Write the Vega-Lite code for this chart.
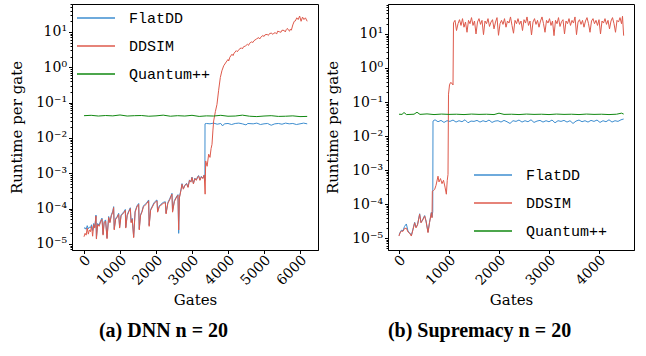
{
  "$schema": "https://vega.github.io/schema/vega-lite/v6.json",
  "padding": {"left": 8, "top": -3, "right": 0, "bottom": 0},
  "config": {
    "view": {"stroke": "#000", "strokeWidth": 1},
    "font": "DejaVu Serif",
    "concat": {"spacing": 5},
    "axis": {"grid": false, "domainColor": "#000", "tickColor": "#000", "labelColor": "#000", "titleColor": "#000",
      "labelFont": "DejaVu Serif", "titleFont": "DejaVu Serif", "labelFontSize": 14, "titleFontSize": 15, "titleFontWeight": "normal", "tickSize": 3.5},
    "legend": {"title": null, "symbolType": "stroke", "symbolSize": 1444, "symbolStrokeWidth": 1.5, "labelFont": "Liberation Mono", "labelFontSize": 15, "labelColor": "#000", "labelOffset": 13, "rowPadding": -1.5, "padding": 0, "labelLimit": 200},
    "title": {"orient": "bottom", "font": "Liberation Serif", "fontSize": 20, "fontWeight": "bold", "color": "#000", "anchor": "middle", "frame": "bounds", "offset": 14}
  },
  "resolve": {"legend": {"color": "independent"}, "scale": {"x": "independent", "y": "independent"}},
  "datasets": {
    "dnn": [
      {"s":"FlatDD","g":0,"v":2.75e-5},{"s":"FlatDD","g":30,"v":2.9e-5},{"s":"FlatDD","g":60,"v":2.6e-5},{"s":"FlatDD","g":90,"v":3.3e-5},{"s":"FlatDD","g":120,"v":2.7e-5},{"s":"FlatDD","g":150,"v":3.0e-5},{"s":"FlatDD","g":180,"v":2.9e-5},{"s":"FlatDD","g":210,"v":3.5e-5},{"s":"FlatDD","g":240,"v":2.4e-5},{"s":"FlatDD","g":270,"v":3.8e-5},
      {"s":"FlatDD","g":300,"v":3.0e-5},{"s":"FlatDD","g":333,"v":6.6e-5},{"s":"FlatDD","g":345,"v":1.5e-5},{"s":"FlatDD","g":380,"v":3.8e-5},{"s":"FlatDD","g":420,"v":3.4e-5},{"s":"FlatDD","g":460,"v":4.5e-5},{"s":"FlatDD","g":500,"v":5.4e-5},{"s":"FlatDD","g":530,"v":1.9e-5},{"s":"FlatDD","g":560,"v":4.3e-5},{"s":"FlatDD","g":600,"v":4.8e-5},
      {"s":"FlatDD","g":640,"v":1.5e-5},{"s":"FlatDD","g":685,"v":6.0e-5},{"s":"FlatDD","g":720,"v":4.2e-5},{"s":"FlatDD","g":760,"v":6.7e-5},{"s":"FlatDD","g":800,"v":8.5e-5},{"s":"FlatDD","g":824,"v":1.14e-4},{"s":"FlatDD","g":840,"v":2.7e-5},{"s":"FlatDD","g":880,"v":5.3e-5},{"s":"FlatDD","g":920,"v":6.0e-5},{"s":"FlatDD","g":963,"v":7.4e-5},
      {"s":"FlatDD","g":990,"v":3.0e-5},{"s":"FlatDD","g":1030,"v":6.7e-5},{"s":"FlatDD","g":1080,"v":7.5e-5},{"s":"FlatDD","g":1120,"v":8.5e-5},{"s":"FlatDD","g":1148,"v":9.5e-5},{"s":"FlatDD","g":1160,"v":3.0e-5},{"s":"FlatDD","g":1200,"v":6.7e-5},{"s":"FlatDD","g":1250,"v":8.9e-5},{"s":"FlatDD","g":1287,"v":1.06e-4},{"s":"FlatDD","g":1310,"v":4.2e-5},
      {"s":"FlatDD","g":1340,"v":5.3e-5},{"s":"FlatDD","g":1380,"v":1.6e-5},{"s":"FlatDD","g":1420,"v":8.4e-5},{"s":"FlatDD","g":1470,"v":1.19e-4},{"s":"FlatDD","g":1519,"v":1.40e-4},{"s":"FlatDD","g":1535,"v":2.7e-5},{"s":"FlatDD","g":1570,"v":6.7e-5},{"s":"FlatDD","g":1610,"v":8.4e-5},{"s":"FlatDD","g":1650,"v":1.19e-4},{"s":"FlatDD","g":1700,"v":1.34e-4},
      {"s":"FlatDD","g":1750,"v":1.5e-4},{"s":"FlatDD","g":1796,"v":1.76e-4},{"s":"FlatDD","g":1810,"v":3.4e-5},{"s":"FlatDD","g":1850,"v":9.4e-5},{"s":"FlatDD","g":1900,"v":1.19e-4},{"s":"FlatDD","g":1950,"v":1.5e-4},{"s":"FlatDD","g":2000,"v":1.68e-4},{"s":"FlatDD","g":2028,"v":1.76e-4},{"s":"FlatDD","g":2045,"v":8.4e-5},{"s":"FlatDD","g":2090,"v":1.19e-4},
      {"s":"FlatDD","g":2140,"v":1.34e-4},{"s":"FlatDD","g":2200,"v":1.5e-4},{"s":"FlatDD","g":2259,"v":1.57e-4},{"s":"FlatDD","g":2280,"v":7.5e-5},{"s":"FlatDD","g":2330,"v":1.5e-4},{"s":"FlatDD","g":2380,"v":1.89e-4},{"s":"FlatDD","g":2420,"v":2.37e-4},{"s":"FlatDD","g":2444,"v":2.72e-4},{"s":"FlatDD","g":2460,"v":8.4e-5},{"s":"FlatDD","g":2510,"v":1.68e-4},
      {"s":"FlatDD","g":2560,"v":2.1e-4},{"s":"FlatDD","g":2610,"v":2.5e-4},{"s":"FlatDD","g":2630,"v":2.0e-5},{"s":"FlatDD","g":2650,"v":2.1e-4},{"s":"FlatDD","g":2700,"v":3.7e-4},{"s":"FlatDD","g":2722,"v":5.1e-4},{"s":"FlatDD","g":2760,"v":3.7e-4},{"s":"FlatDD","g":2800,"v":4.6e-4},{"s":"FlatDD","g":2850,"v":5.2e-4},{"s":"FlatDD","g":2890,"v":4.1e-4},
      {"s":"FlatDD","g":2930,"v":6.5e-4},{"s":"FlatDD","g":2970,"v":5.8e-4},{"s":"FlatDD","g":3000,"v":7.8e-4},{"s":"FlatDD","g":3040,"v":5.2e-4},{"s":"FlatDD","g":3080,"v":7.3e-4},{"s":"FlatDD","g":3120,"v":6.5e-4},{"s":"FlatDD","g":3160,"v":8.2e-4},{"s":"FlatDD","g":3185,"v":8.6e-4},{"s":"FlatDD","g":3220,"v":6.5e-4},{"s":"FlatDD","g":3260,"v":8.2e-4},
      {"s":"FlatDD","g":3300,"v":7.3e-4},{"s":"FlatDD","g":3340,"v":9.0e-4},{"s":"FlatDD","g":3358,"v":6.3e-4},{"s":"FlatDD","g":3362,"v":0.0251},{"s":"FlatDD","g":3400,"v":0.0257},{"s":"FlatDD","g":3500,"v":0.0251},{"s":"FlatDD","g":3600,"v":0.0263},{"s":"FlatDD","g":3700,"v":0.0245},{"s":"FlatDD","g":3800,"v":0.0257},{"s":"FlatDD","g":3850,"v":0.0219},
      {"s":"FlatDD","g":3900,"v":0.0251},{"s":"FlatDD","g":4000,"v":0.0257},{"s":"FlatDD","g":4100,"v":0.0240},{"s":"FlatDD","g":4200,"v":0.0257},{"s":"FlatDD","g":4300,"v":0.0263},{"s":"FlatDD","g":4400,"v":0.0251},{"s":"FlatDD","g":4500,"v":0.0234},{"s":"FlatDD","g":4550,"v":0.0257},{"s":"FlatDD","g":4700,"v":0.0251},{"s":"FlatDD","g":4800,"v":0.0263},
      {"s":"FlatDD","g":4900,"v":0.0240},{"s":"FlatDD","g":5000,"v":0.0251},{"s":"FlatDD","g":5100,"v":0.0257},{"s":"FlatDD","g":5200,"v":0.0229},{"s":"FlatDD","g":5300,"v":0.0251},{"s":"FlatDD","g":5400,"v":0.0257},{"s":"FlatDD","g":5500,"v":0.0245},{"s":"FlatDD","g":5600,"v":0.0263},{"s":"FlatDD","g":5700,"v":0.0251},{"s":"FlatDD","g":5800,"v":0.0257},
      {"s":"FlatDD","g":5900,"v":0.0240},{"s":"FlatDD","g":6000,"v":0.0251},{"s":"FlatDD","g":6100,"v":0.0263},{"s":"FlatDD","g":6200,"v":0.0251},

      {"s":"DDSIM","g":0,"v":1.6e-5},{"s":"DDSIM","g":30,"v":2.0e-5},{"s":"DDSIM","g":60,"v":1.78e-5},{"s":"DDSIM","g":90,"v":2.82e-5},{"s":"DDSIM","g":120,"v":1.9e-5},{"s":"DDSIM","g":150,"v":2.5e-5},{"s":"DDSIM","g":180,"v":2.24e-5},{"s":"DDSIM","g":210,"v":3.16e-5},{"s":"DDSIM","g":240,"v":1.66e-5},{"s":"DDSIM","g":270,"v":3.55e-5},
      {"s":"DDSIM","g":300,"v":2.82e-5},{"s":"DDSIM","g":333,"v":6.17e-5},{"s":"DDSIM","g":345,"v":1.38e-5},{"s":"DDSIM","g":380,"v":3.55e-5},{"s":"DDSIM","g":420,"v":3.16e-5},{"s":"DDSIM","g":460,"v":4.17e-5},{"s":"DDSIM","g":500,"v":5.0e-5},{"s":"DDSIM","g":530,"v":1.78e-5},{"s":"DDSIM","g":560,"v":3.98e-5},{"s":"DDSIM","g":600,"v":4.47e-5},
      {"s":"DDSIM","g":640,"v":1.41e-5},{"s":"DDSIM","g":685,"v":5.62e-5},{"s":"DDSIM","g":720,"v":3.98e-5},{"s":"DDSIM","g":760,"v":6.31e-5},{"s":"DDSIM","g":800,"v":7.94e-5},{"s":"DDSIM","g":824,"v":1.07e-4},{"s":"DDSIM","g":840,"v":2.5e-5},{"s":"DDSIM","g":880,"v":5.0e-5},{"s":"DDSIM","g":920,"v":5.62e-5},{"s":"DDSIM","g":963,"v":6.92e-5},
      {"s":"DDSIM","g":990,"v":2.82e-5},{"s":"DDSIM","g":1030,"v":6.31e-5},{"s":"DDSIM","g":1080,"v":7.08e-5},{"s":"DDSIM","g":1120,"v":7.94e-5},{"s":"DDSIM","g":1148,"v":8.91e-5},{"s":"DDSIM","g":1160,"v":2.82e-5},{"s":"DDSIM","g":1200,"v":6.31e-5},{"s":"DDSIM","g":1250,"v":8.32e-5},{"s":"DDSIM","g":1287,"v":1.0e-4},{"s":"DDSIM","g":1310,"v":3.98e-5},
      {"s":"DDSIM","g":1340,"v":5.0e-5},{"s":"DDSIM","g":1380,"v":1.51e-5},{"s":"DDSIM","g":1420,"v":7.94e-5},{"s":"DDSIM","g":1470,"v":1.12e-4},{"s":"DDSIM","g":1519,"v":1.32e-4},{"s":"DDSIM","g":1535,"v":2.5e-5},{"s":"DDSIM","g":1570,"v":6.31e-5},{"s":"DDSIM","g":1610,"v":7.94e-5},{"s":"DDSIM","g":1650,"v":1.12e-4},{"s":"DDSIM","g":1700,"v":1.26e-4},
      {"s":"DDSIM","g":1750,"v":1.41e-4},{"s":"DDSIM","g":1796,"v":1.66e-4},{"s":"DDSIM","g":1810,"v":3.16e-5},{"s":"DDSIM","g":1850,"v":8.91e-5},{"s":"DDSIM","g":1900,"v":1.12e-4},{"s":"DDSIM","g":1950,"v":1.41e-4},{"s":"DDSIM","g":2000,"v":1.58e-4},{"s":"DDSIM","g":2028,"v":1.66e-4},{"s":"DDSIM","g":2045,"v":7.94e-5},{"s":"DDSIM","g":2090,"v":1.12e-4},
      {"s":"DDSIM","g":2140,"v":1.26e-4},{"s":"DDSIM","g":2200,"v":1.41e-4},{"s":"DDSIM","g":2259,"v":1.48e-4},{"s":"DDSIM","g":2280,"v":7.08e-5},{"s":"DDSIM","g":2330,"v":1.41e-4},{"s":"DDSIM","g":2380,"v":1.78e-4},{"s":"DDSIM","g":2420,"v":2.24e-4},{"s":"DDSIM","g":2444,"v":2.57e-4},{"s":"DDSIM","g":2460,"v":7.94e-5},{"s":"DDSIM","g":2510,"v":1.58e-4},
      {"s":"DDSIM","g":2560,"v":2.0e-4},{"s":"DDSIM","g":2610,"v":2.4e-4},{"s":"DDSIM","g":2630,"v":2.5e-5},{"s":"DDSIM","g":2650,"v":2.0e-4},{"s":"DDSIM","g":2700,"v":3.55e-4},{"s":"DDSIM","g":2722,"v":4.9e-4},{"s":"DDSIM","g":2760,"v":3.55e-4},{"s":"DDSIM","g":2800,"v":4.47e-4},{"s":"DDSIM","g":2850,"v":5.0e-4},{"s":"DDSIM","g":2890,"v":3.98e-4},
      {"s":"DDSIM","g":2930,"v":6.31e-4},{"s":"DDSIM","g":2970,"v":5.62e-4},{"s":"DDSIM","g":3000,"v":7.59e-4},{"s":"DDSIM","g":3040,"v":5.0e-4},{"s":"DDSIM","g":3080,"v":7.08e-4},{"s":"DDSIM","g":3120,"v":6.31e-4},{"s":"DDSIM","g":3160,"v":7.94e-4},{"s":"DDSIM","g":3185,"v":8.32e-4},{"s":"DDSIM","g":3220,"v":6.31e-4},{"s":"DDSIM","g":3260,"v":7.94e-4},
      {"s":"DDSIM","g":3300,"v":7.08e-4},{"s":"DDSIM","g":3340,"v":8.91e-4},{"s":"DDSIM","g":3365,"v":2.57e-4},{"s":"DDSIM","g":3380,"v":2.24e-3},{"s":"DDSIM","g":3420,"v":1.58e-3},{"s":"DDSIM","g":3463,"v":3.47e-3},{"s":"DDSIM","g":3500,"v":2.82e-3},{"s":"DDSIM","g":3530,"v":5.0e-3},{"s":"DDSIM","g":3556,"v":6.61e-3},{"s":"DDSIM","g":3580,"v":1.58e-2},
      {"s":"DDSIM","g":3602,"v":3.02e-2},{"s":"DDSIM","g":3650,"v":5.62e-2},{"s":"DDSIM","g":3694,"v":8.91e-2},{"s":"DDSIM","g":3740,"v":0.224},{"s":"DDSIM","g":3787,"v":0.513},{"s":"DDSIM","g":3830,"v":0.794},{"s":"DDSIM","g":3880,"v":1.10},{"s":"DDSIM","g":3950,"v":1.41},{"s":"DDSIM","g":4000,"v":1.66},{"s":"DDSIM","g":4020,"v":1.51},
      {"s":"DDSIM","g":4050,"v":1.91},{"s":"DDSIM","g":4111,"v":2.34},{"s":"DDSIM","g":4140,"v":2.14},{"s":"DDSIM","g":4170,"v":2.51},{"s":"DDSIM","g":4230,"v":2.95},{"s":"DDSIM","g":4260,"v":2.75},{"s":"DDSIM","g":4300,"v":3.16},{"s":"DDSIM","g":4370,"v":3.55},{"s":"DDSIM","g":4400,"v":3.31},{"s":"DDSIM","g":4430,"v":3.80},
      {"s":"DDSIM","g":4481,"v":3.98},{"s":"DDSIM","g":4540,"v":4.47},{"s":"DDSIM","g":4570,"v":4.17},{"s":"DDSIM","g":4600,"v":4.79},{"s":"DDSIM","g":4660,"v":5.25},{"s":"DDSIM","g":4690,"v":5.01},{"s":"DDSIM","g":4720,"v":5.62},{"s":"DDSIM","g":4790,"v":6.31},{"s":"DDSIM","g":4852,"v":6.92},{"s":"DDSIM","g":4880,"v":6.31},
      {"s":"DDSIM","g":4910,"v":7.08},{"s":"DDSIM","g":4970,"v":7.94},{"s":"DDSIM","g":5000,"v":7.41},{"s":"DDSIM","g":5030,"v":8.32},{"s":"DDSIM","g":5090,"v":8.51},{"s":"DDSIM","g":5120,"v":7.94},{"s":"DDSIM","g":5150,"v":8.91},{"s":"DDSIM","g":5210,"v":9.33},{"s":"DDSIM","g":5240,"v":8.51},{"s":"DDSIM","g":5270,"v":9.12},
      {"s":"DDSIM","g":5315,"v":9.55},{"s":"DDSIM","g":5350,"v":8.71},{"s":"DDSIM","g":5380,"v":10.5},{"s":"DDSIM","g":5440,"v":10.0},{"s":"DDSIM","g":5470,"v":9.77},{"s":"DDSIM","g":5500,"v":11.2},{"s":"DDSIM","g":5560,"v":11.0},{"s":"DDSIM","g":5590,"v":10.0},{"s":"DDSIM","g":5620,"v":11.7},{"s":"DDSIM","g":5650,"v":12.6},
      {"s":"DDSIM","g":5680,"v":11.2},{"s":"DDSIM","g":5710,"v":10.5},{"s":"DDSIM","g":5731,"v":12.0},{"s":"DDSIM","g":5760,"v":11.2},{"s":"DDSIM","g":5800,"v":15.8},{"s":"DDSIM","g":5840,"v":20.0},{"s":"DDSIM","g":5870,"v":20.4},{"s":"DDSIM","g":5910,"v":25.1},{"s":"DDSIM","g":5950,"v":22.4},{"s":"DDSIM","g":5990,"v":28.2},
      {"s":"DDSIM","g":6030,"v":20.0},{"s":"DDSIM","g":6070,"v":26.3},{"s":"DDSIM","g":6110,"v":22.4},{"s":"DDSIM","g":6150,"v":25.1},{"s":"DDSIM","g":6200,"v":20.0},

      {"s":"Quantum++","g":0,"v":0.0427},{"s":"Quantum++","g":200,"v":0.0437},{"s":"Quantum++","g":400,"v":0.0417},{"s":"Quantum++","g":600,"v":0.0432},{"s":"Quantum++","g":800,"v":0.0422},{"s":"Quantum++","g":1000,"v":0.0447},{"s":"Quantum++","g":1200,"v":0.0417},{"s":"Quantum++","g":1400,"v":0.0427},
      {"s":"Quantum++","g":1600,"v":0.0432},{"s":"Quantum++","g":1800,"v":0.0412},{"s":"Quantum++","g":2000,"v":0.0422},{"s":"Quantum++","g":2200,"v":0.0442},{"s":"Quantum++","g":2400,"v":0.0412},{"s":"Quantum++","g":2600,"v":0.0427},{"s":"Quantum++","g":2800,"v":0.0417},{"s":"Quantum++","g":3000,"v":0.0437},
      {"s":"Quantum++","g":3200,"v":0.0407},{"s":"Quantum++","g":3400,"v":0.0422},{"s":"Quantum++","g":3600,"v":0.0417},{"s":"Quantum++","g":3800,"v":0.0437},{"s":"Quantum++","g":4000,"v":0.0412},{"s":"Quantum++","g":4200,"v":0.0417},{"s":"Quantum++","g":4400,"v":0.0442},{"s":"Quantum++","g":4600,"v":0.0412},
      {"s":"Quantum++","g":4800,"v":0.0402},{"s":"Quantum++","g":5000,"v":0.0417},{"s":"Quantum++","g":5200,"v":0.0427},{"s":"Quantum++","g":5400,"v":0.0407},{"s":"Quantum++","g":5600,"v":0.0412},{"s":"Quantum++","g":5800,"v":0.0422},{"s":"Quantum++","g":6000,"v":0.0402},{"s":"Quantum++","g":6200,"v":0.0407}
    ],
    "sup": [
      {"s":"FlatDD","g":0,"v":1.2e-5},{"s":"FlatDD","g":20,"v":1.45e-5},{"s":"FlatDD","g":47,"v":1.7e-5},{"s":"FlatDD","g":80,"v":1.65e-5},{"s":"FlatDD","g":110,"v":2.2e-5},{"s":"FlatDD","g":147,"v":2.6e-5},{"s":"FlatDD","g":180,"v":1.6e-5},{"s":"FlatDD","g":210,"v":1.45e-5},{"s":"FlatDD","g":247,"v":1.2e-5},{"s":"FlatDD","g":280,"v":1.85e-5},
      {"s":"FlatDD","g":313,"v":2.9e-5},{"s":"FlatDD","g":340,"v":2.1e-5},{"s":"FlatDD","g":370,"v":2.5e-5},{"s":"FlatDD","g":413,"v":5.2e-5},{"s":"FlatDD","g":440,"v":2.9e-5},{"s":"FlatDD","g":470,"v":3.4e-5},{"s":"FlatDD","g":513,"v":4.6e-5},{"s":"FlatDD","g":540,"v":3.2e-5},{"s":"FlatDD","g":580,"v":1.5e-5},{"s":"FlatDD","g":610,"v":2.9e-5},
      {"s":"FlatDD","g":647,"v":5.7e-5},{"s":"FlatDD","g":660,"v":4.1e-5},{"s":"FlatDD","g":675,"v":6.0e-5},{"s":"FlatDD","g":680,"v":0.0275},{"s":"FlatDD","g":720,"v":0.0300},{"s":"FlatDD","g":780,"v":0.0263},{"s":"FlatDD","g":840,"v":0.0288},{"s":"FlatDD","g":900,"v":0.0251},{"s":"FlatDD","g":960,"v":0.0282},{"s":"FlatDD","g":1020,"v":0.0269},
      {"s":"FlatDD","g":1080,"v":0.0295},{"s":"FlatDD","g":1140,"v":0.0257},{"s":"FlatDD","g":1200,"v":0.0282},{"s":"FlatDD","g":1260,"v":0.0263},{"s":"FlatDD","g":1320,"v":0.0300},{"s":"FlatDD","g":1380,"v":0.0245},{"s":"FlatDD","g":1440,"v":0.0275},{"s":"FlatDD","g":1500,"v":0.0269},{"s":"FlatDD","g":1560,"v":0.0288},{"s":"FlatDD","g":1620,"v":0.0257},
      {"s":"FlatDD","g":1680,"v":0.0282},{"s":"FlatDD","g":1740,"v":0.0263},{"s":"FlatDD","g":1800,"v":0.0295},{"s":"FlatDD","g":1860,"v":0.0251},{"s":"FlatDD","g":1920,"v":0.0275},{"s":"FlatDD","g":1980,"v":0.0282},{"s":"FlatDD","g":2040,"v":0.0257},{"s":"FlatDD","g":2100,"v":0.0288},{"s":"FlatDD","g":2160,"v":0.0263},{"s":"FlatDD","g":2220,"v":0.0234},
      {"s":"FlatDD","g":2280,"v":0.0282},{"s":"FlatDD","g":2340,"v":0.0269},{"s":"FlatDD","g":2400,"v":0.0295},{"s":"FlatDD","g":2460,"v":0.0257},{"s":"FlatDD","g":2520,"v":0.0282},{"s":"FlatDD","g":2580,"v":0.0263},{"s":"FlatDD","g":2640,"v":0.0300},{"s":"FlatDD","g":2700,"v":0.0251},{"s":"FlatDD","g":2760,"v":0.0275},{"s":"FlatDD","g":2820,"v":0.0288},
      {"s":"FlatDD","g":2880,"v":0.0257},{"s":"FlatDD","g":2940,"v":0.0282},{"s":"FlatDD","g":3000,"v":0.0263},{"s":"FlatDD","g":3060,"v":0.0295},{"s":"FlatDD","g":3120,"v":0.0245},{"s":"FlatDD","g":3180,"v":0.0282},{"s":"FlatDD","g":3240,"v":0.0269},{"s":"FlatDD","g":3300,"v":0.0288},{"s":"FlatDD","g":3360,"v":0.0257},{"s":"FlatDD","g":3420,"v":0.0282},
      {"s":"FlatDD","g":3480,"v":0.0234},{"s":"FlatDD","g":3540,"v":0.0275},{"s":"FlatDD","g":3600,"v":0.0295},{"s":"FlatDD","g":3660,"v":0.0263},{"s":"FlatDD","g":3720,"v":0.0282},{"s":"FlatDD","g":3780,"v":0.0257},{"s":"FlatDD","g":3840,"v":0.0288},{"s":"FlatDD","g":3900,"v":0.0269},{"s":"FlatDD","g":3960,"v":0.0295},{"s":"FlatDD","g":4020,"v":0.0251},
      {"s":"FlatDD","g":4080,"v":0.0282},{"s":"FlatDD","g":4140,"v":0.0263},{"s":"FlatDD","g":4200,"v":0.0300},{"s":"FlatDD","g":4260,"v":0.0257},{"s":"FlatDD","g":4320,"v":0.0282},{"s":"FlatDD","g":4380,"v":0.0269},{"s":"FlatDD","g":4440,"v":0.0300},{"s":"FlatDD","g":4493,"v":0.0316},

      {"s":"DDSIM","g":0,"v":1.15e-5},{"s":"DDSIM","g":20,"v":1.41e-5},{"s":"DDSIM","g":47,"v":1.62e-5},{"s":"DDSIM","g":80,"v":1.58e-5},{"s":"DDSIM","g":110,"v":1.91e-5},{"s":"DDSIM","g":147,"v":1.95e-5},{"s":"DDSIM","g":180,"v":1.51e-5},{"s":"DDSIM","g":210,"v":1.41e-5},{"s":"DDSIM","g":247,"v":1.15e-5},{"s":"DDSIM","g":280,"v":1.78e-5},
      {"s":"DDSIM","g":313,"v":2.82e-5},{"s":"DDSIM","g":340,"v":2.0e-5},{"s":"DDSIM","g":370,"v":2.4e-5},{"s":"DDSIM","g":413,"v":5.0e-5},{"s":"DDSIM","g":440,"v":2.82e-5},{"s":"DDSIM","g":470,"v":3.31e-5},{"s":"DDSIM","g":513,"v":4.47e-5},{"s":"DDSIM","g":540,"v":3.16e-5},{"s":"DDSIM","g":580,"v":1.45e-5},{"s":"DDSIM","g":610,"v":2.82e-5},
      {"s":"DDSIM","g":647,"v":5.5e-5},{"s":"DDSIM","g":660,"v":3.98e-5},{"s":"DDSIM","g":667,"v":2.4e-4},{"s":"DDSIM","g":690,"v":2.51e-4},{"s":"DDSIM","g":713,"v":2.69e-4},{"s":"DDSIM","g":740,"v":3.55e-4},{"s":"DDSIM","g":780,"v":6.61e-4},{"s":"DDSIM","g":800,"v":4.47e-4},{"s":"DDSIM","g":830,"v":5.62e-4},{"s":"DDSIM","g":860,"v":3.98e-4},
      {"s":"DDSIM","g":890,"v":5.0e-4},{"s":"DDSIM","g":920,"v":3.16e-4},{"s":"DDSIM","g":947,"v":1.95e-4},{"s":"DDSIM","g":965,"v":5.0e-4},{"s":"DDSIM","g":980,"v":7.41e-4},{"s":"DDSIM","g":990,"v":0.17},{"s":"DDSIM","g":1010,"v":0.316},{"s":"DDSIM","g":1030,"v":0.372},{"s":"DDSIM","g":1060,"v":0.355},{"s":"DDSIM","g":1080,"v":0.316},
      {"s":"DDSIM","g":1090,"v":21.4},{"s":"DDSIM","g":1120,"v":25.1},{"s":"DDSIM","g":1150,"v":12.6},{"s":"DDSIM","g":1180,"v":20.0},{"s":"DDSIM","g":1210,"v":26.3},{"s":"DDSIM","g":1240,"v":17.8},{"s":"DDSIM","g":1270,"v":28.2},{"s":"DDSIM","g":1300,"v":15.8},{"s":"DDSIM","g":1330,"v":22.4},{"s":"DDSIM","g":1360,"v":11.2},
      {"s":"DDSIM","g":1390,"v":25.1},{"s":"DDSIM","g":1420,"v":20.0},{"s":"DDSIM","g":1450,"v":30.2},{"s":"DDSIM","g":1480,"v":17.8},{"s":"DDSIM","g":1510,"v":24.0},{"s":"DDSIM","g":1540,"v":10.0},{"s":"DDSIM","g":1570,"v":22.4},{"s":"DDSIM","g":1600,"v":28.2},{"s":"DDSIM","g":1630,"v":19.1},{"s":"DDSIM","g":1660,"v":25.1},
      {"s":"DDSIM","g":1690,"v":9.55},{"s":"DDSIM","g":1720,"v":24.0},{"s":"DDSIM","g":1750,"v":20.0},{"s":"DDSIM","g":1780,"v":28.2},{"s":"DDSIM","g":1810,"v":16.6},{"s":"DDSIM","g":1840,"v":22.4},{"s":"DDSIM","g":1870,"v":26.3},{"s":"DDSIM","g":1900,"v":14.1},{"s":"DDSIM","g":1930,"v":22.4},{"s":"DDSIM","g":1960,"v":30.2},
      {"s":"DDSIM","g":1990,"v":9.12},{"s":"DDSIM","g":2020,"v":20.0},{"s":"DDSIM","g":2050,"v":25.1},{"s":"DDSIM","g":2080,"v":19.1},{"s":"DDSIM","g":2110,"v":28.2},{"s":"DDSIM","g":2140,"v":15.8},{"s":"DDSIM","g":2170,"v":24.0},{"s":"DDSIM","g":2200,"v":20.9},{"s":"DDSIM","g":2230,"v":31.6},{"s":"DDSIM","g":2260,"v":17.8},
      {"s":"DDSIM","g":2290,"v":10.5},{"s":"DDSIM","g":2320,"v":25.1},{"s":"DDSIM","g":2350,"v":20.0},{"s":"DDSIM","g":2380,"v":28.2},{"s":"DDSIM","g":2410,"v":19.1},{"s":"DDSIM","g":2440,"v":24.0},{"s":"DDSIM","g":2470,"v":12.6},{"s":"DDSIM","g":2500,"v":26.3},{"s":"DDSIM","g":2530,"v":20.9},{"s":"DDSIM","g":2560,"v":31.6},
      {"s":"DDSIM","g":2590,"v":17.8},{"s":"DDSIM","g":2620,"v":24.0},{"s":"DDSIM","g":2650,"v":9.33},{"s":"DDSIM","g":2680,"v":22.4},{"s":"DDSIM","g":2710,"v":28.2},{"s":"DDSIM","g":2740,"v":19.1},{"s":"DDSIM","g":2770,"v":25.1},{"s":"DDSIM","g":2800,"v":15.8},{"s":"DDSIM","g":2830,"v":24.0},{"s":"DDSIM","g":2860,"v":31.6},
      {"s":"DDSIM","g":2890,"v":20.0},{"s":"DDSIM","g":2920,"v":11.2},{"s":"DDSIM","g":2950,"v":25.1},{"s":"DDSIM","g":2980,"v":20.9},{"s":"DDSIM","g":3010,"v":28.2},{"s":"DDSIM","g":3040,"v":17.8},{"s":"DDSIM","g":3070,"v":24.0},{"s":"DDSIM","g":3100,"v":8.91},{"s":"DDSIM","g":3130,"v":25.1},{"s":"DDSIM","g":3160,"v":20.0},
      {"s":"DDSIM","g":3190,"v":30.2},{"s":"DDSIM","g":3220,"v":16.6},{"s":"DDSIM","g":3250,"v":22.9},{"s":"DDSIM","g":3280,"v":26.3},{"s":"DDSIM","g":3310,"v":10.0},{"s":"DDSIM","g":3340,"v":24.0},{"s":"DDSIM","g":3370,"v":20.0},{"s":"DDSIM","g":3400,"v":28.2},{"s":"DDSIM","g":3430,"v":17.8},{"s":"DDSIM","g":3460,"v":25.1},
      {"s":"DDSIM","g":3490,"v":20.9},{"s":"DDSIM","g":3520,"v":31.6},{"s":"DDSIM","g":3550,"v":9.55},{"s":"DDSIM","g":3580,"v":22.4},{"s":"DDSIM","g":3610,"v":26.3},{"s":"DDSIM","g":3640,"v":19.1},{"s":"DDSIM","g":3670,"v":25.1},{"s":"DDSIM","g":3700,"v":15.8},{"s":"DDSIM","g":3730,"v":24.0},{"s":"DDSIM","g":3760,"v":30.2},
      {"s":"DDSIM","g":3790,"v":20.0},{"s":"DDSIM","g":3820,"v":11.2},{"s":"DDSIM","g":3850,"v":24.0},{"s":"DDSIM","g":3880,"v":28.2},{"s":"DDSIM","g":3910,"v":20.0},{"s":"DDSIM","g":3940,"v":25.1},{"s":"DDSIM","g":3970,"v":17.8},{"s":"DDSIM","g":4000,"v":26.3},{"s":"DDSIM","g":4030,"v":10.0},{"s":"DDSIM","g":4060,"v":24.0},
      {"s":"DDSIM","g":4090,"v":20.9},{"s":"DDSIM","g":4120,"v":28.2},{"s":"DDSIM","g":4150,"v":19.1},{"s":"DDSIM","g":4180,"v":25.1},{"s":"DDSIM","g":4210,"v":14.1},{"s":"DDSIM","g":4240,"v":24.0},{"s":"DDSIM","g":4270,"v":30.2},{"s":"DDSIM","g":4300,"v":20.0},{"s":"DDSIM","g":4330,"v":11.2},{"s":"DDSIM","g":4360,"v":25.1},
      {"s":"DDSIM","g":4390,"v":22.4},{"s":"DDSIM","g":4420,"v":30.2},{"s":"DDSIM","g":4450,"v":20.0},{"s":"DDSIM","g":4470,"v":33.1},{"s":"DDSIM","g":4493,"v":8.91},

      {"s":"Quantum++","g":0,"v":0.0437},{"s":"Quantum++","g":60,"v":0.0432},{"s":"Quantum++","g":100,"v":0.0490},{"s":"Quantum++","g":150,"v":0.0427},{"s":"Quantum++","g":300,"v":0.0437},{"s":"Quantum++","g":360,"v":0.0500},{"s":"Quantum++","g":420,"v":0.0432},{"s":"Quantum++","g":560,"v":0.0447},
      {"s":"Quantum++","g":700,"v":0.0427},{"s":"Quantum++","g":850,"v":0.0442},{"s":"Quantum++","g":1000,"v":0.0432},{"s":"Quantum++","g":1150,"v":0.0437},{"s":"Quantum++","g":1300,"v":0.0427},{"s":"Quantum++","g":1450,"v":0.0442},{"s":"Quantum++","g":1600,"v":0.0432},{"s":"Quantum++","g":1750,"v":0.0437},
      {"s":"Quantum++","g":1900,"v":0.0427},{"s":"Quantum++","g":2000,"v":0.0470},{"s":"Quantum++","g":2100,"v":0.0432},{"s":"Quantum++","g":2250,"v":0.0437},{"s":"Quantum++","g":2400,"v":0.0427},{"s":"Quantum++","g":2550,"v":0.0442},{"s":"Quantum++","g":2700,"v":0.0432},{"s":"Quantum++","g":2850,"v":0.0437},
      {"s":"Quantum++","g":3000,"v":0.0427},{"s":"Quantum++","g":3150,"v":0.0442},{"s":"Quantum++","g":3300,"v":0.0432},{"s":"Quantum++","g":3450,"v":0.0437},{"s":"Quantum++","g":3600,"v":0.0427},{"s":"Quantum++","g":3750,"v":0.0442},{"s":"Quantum++","g":3900,"v":0.0432},{"s":"Quantum++","g":4050,"v":0.0437},
      {"s":"Quantum++","g":4200,"v":0.0427},{"s":"Quantum++","g":4350,"v":0.0437},{"s":"Quantum++","g":4450,"v":0.0470},{"s":"Quantum++","g":4493,"v":0.0442}
    ]
  },
  "hconcat": [
    {
      "width": 246, "height": 246,
      "title": {"text": "(a) DNN n = 20"},
      "data": {"name": "dnn"},
      "mark": {"type": "line", "strokeWidth": 1},
      "encoding": {
        "x": {"field": "g", "type": "quantitative", "scale": {"domain": [-333, 6500], "nice": false, "zero": false},
          "axis": {"title": "Gates", "values": [0,1000,2000,3000,4000,5000,6000], "format": "d", "labelAngle": -45, "labelAlign": "right", "labelBaseline": "middle", "labelPadding": 4, "labelOffset": 4, "minExtent": 40, "maxExtent": 40, "titlePadding": 2}},
        "y": {"field": "v", "type": "quantitative", "scale": {"type": "log", "domain": [6.76e-6, 61.7], "nice": false},
          "axis": {"title": "Runtime per gate", "titlePadding": 8, "minExtent": 40, "maxExtent": 40, "labelPadding": 2,
            "values": [7e-6,8e-6,9e-6,1e-5,2e-5,3e-5,4e-5,5e-5,6e-5,7e-5,8e-5,9e-5,1e-4,2e-4,3e-4,4e-4,5e-4,6e-4,7e-4,8e-4,9e-4,1e-3,2e-3,3e-3,4e-3,5e-3,6e-3,7e-3,8e-3,9e-3,0.01,0.02,0.03,0.04,0.05,0.06,0.07,0.08,0.09,0.1,0.2,0.3,0.4,0.5,0.6,0.7,0.8,0.9,1,2,3,4,5,6,7,8,9,10,20,30,40,50,60],
            "tickSize": {"condition": {"test": "abs(log(datum.value)/LN10-round(log(datum.value)/LN10))>0.001", "value": 2}, "value": 3.5},
            "labelExpr": "abs(log(datum.value)/LN10-round(log(datum.value)/LN10))>0.001 ? '' : '10' + replace(replace(replace(replace(replace(replace(replace(''+round(log(datum.value)/LN10),'-','⁻'),'0','⁰'),'1','¹'),'2','²'),'3','³'),'4','⁴'),'5','⁵')"}},
        "color": {"field": "s", "type": "nominal", "scale": {"domain": ["FlatDD", "DDSIM", "Quantum++"], "range": ["#3E8ED0", "#DE5A4C", "#118811"]},
          "legend": {"orient": "none", "legendX": 4, "legendY": -6}}
      }
    },
    {
      "width": 246, "height": 246,
      "title": {"text": "(b) Supremacy n = 20"},
      "data": {"name": "sup"},
      "mark": {"type": "line", "strokeWidth": 1},
      "encoding": {
        "x": {"field": "g", "type": "quantitative", "scale": {"domain": [-220, 4700], "nice": false, "zero": false},
          "axis": {"title": "Gates", "values": [0,1000,2000,3000,4000], "format": "d", "labelAngle": -45, "labelAlign": "right", "labelBaseline": "middle", "labelPadding": 4, "labelOffset": 4, "minExtent": 40, "maxExtent": 40, "titlePadding": 2}},
        "y": {"field": "v", "type": "quantitative", "scale": {"type": "log", "domain": [4.47e-6, 75.9], "nice": false},
          "axis": {"title": "Runtime per gate", "titlePadding": 8, "minExtent": 40, "maxExtent": 40, "labelPadding": 2,
            "values": [5e-6,6e-6,7e-6,8e-6,9e-6,1e-5,2e-5,3e-5,4e-5,5e-5,6e-5,7e-5,8e-5,9e-5,1e-4,2e-4,3e-4,4e-4,5e-4,6e-4,7e-4,8e-4,9e-4,1e-3,2e-3,3e-3,4e-3,5e-3,6e-3,7e-3,8e-3,9e-3,0.01,0.02,0.03,0.04,0.05,0.06,0.07,0.08,0.09,0.1,0.2,0.3,0.4,0.5,0.6,0.7,0.8,0.9,1,2,3,4,5,6,7,8,9,10,20,30,40,50,60,70],
            "tickSize": {"condition": {"test": "abs(log(datum.value)/LN10-round(log(datum.value)/LN10))>0.001", "value": 2}, "value": 3.5},
            "labelExpr": "abs(log(datum.value)/LN10-round(log(datum.value)/LN10))>0.001 ? '' : '10' + replace(replace(replace(replace(replace(replace(replace(''+round(log(datum.value)/LN10),'-','⁻'),'0','⁰'),'1','¹'),'2','²'),'3','³'),'4','⁴'),'5','⁵')"}},
        "color": {"field": "s", "type": "nominal", "scale": {"domain": ["FlatDD", "DDSIM", "Quantum++"], "range": ["#3E8ED0", "#DE5A4C", "#118811"]},
          "legend": {"orient": "none", "legendX": 85, "legendY": 151}}
      }
    }
  ]
}
